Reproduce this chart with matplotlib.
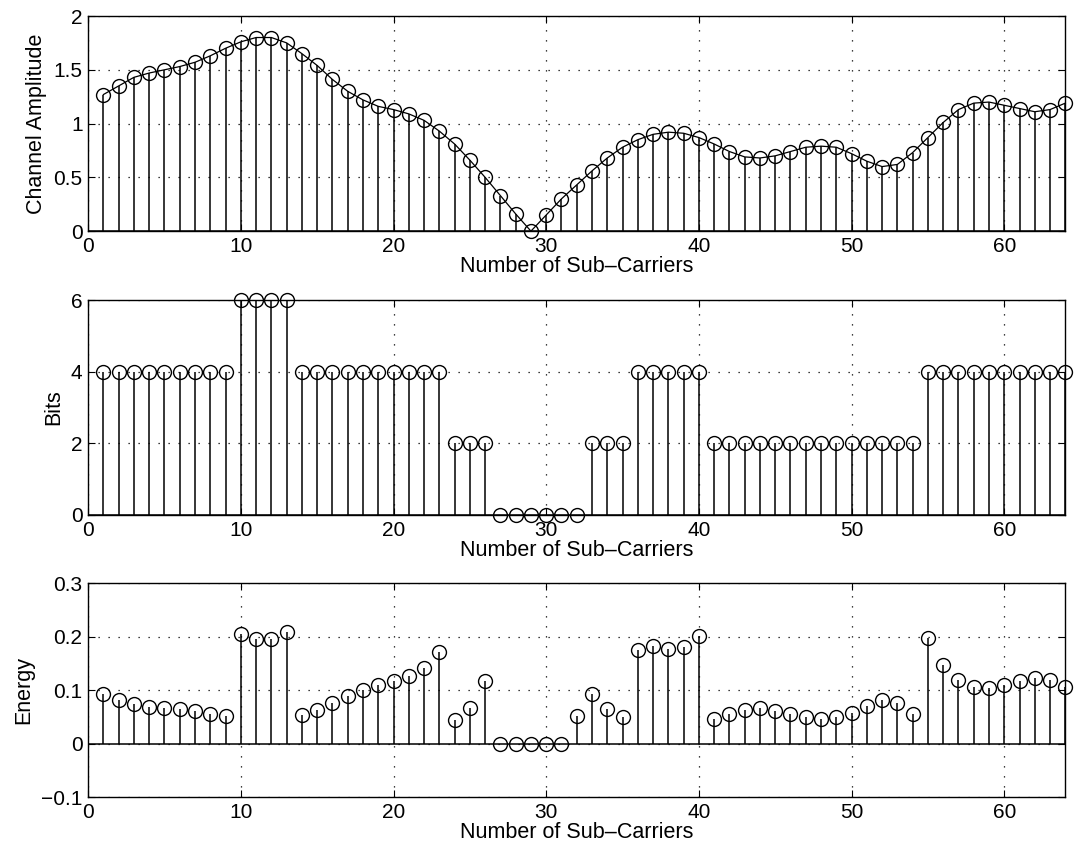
import numpy as np
import matplotlib
matplotlib.use("Agg")
import matplotlib.pyplot as plt

plt.rcParams['font.family'] = ['Liberation Sans', 'DejaVu Sans']

# Sub-carrier indices
carriers = list(range(1, 65))

# Channel amplitude per sub-carrier
amplitude = [
    1.27, 1.35, 1.43, 1.47, 1.50, 1.53, 1.57, 1.63, 1.70, 1.76,
    1.80, 1.80, 1.75, 1.65, 1.54, 1.41, 1.30, 1.22, 1.16, 1.13,
    1.09, 1.03, 0.93, 0.81, 0.66, 0.50, 0.33, 0.16, 0.00, 0.15,
    0.30, 0.43, 0.56, 0.68, 0.78, 0.85, 0.90, 0.92, 0.91, 0.87,
    0.81, 0.74, 0.69, 0.68, 0.70, 0.74, 0.78, 0.79, 0.78, 0.72,
    0.65, 0.60, 0.62, 0.73, 0.87, 1.01, 1.13, 1.19, 1.20, 1.17,
    1.14, 1.11, 1.13, 1.19,
]

# Bits loaded on each sub-carrier
bits = [
    4, 4, 4, 4, 4, 4, 4, 4, 4, 6,
    6, 6, 6, 4, 4, 4, 4, 4, 4, 4,
    4, 4, 4, 2, 2, 2, 0, 0, 0, 0,
    0, 0, 2, 2, 2, 4, 4, 4, 4, 4,
    2, 2, 2, 2, 2, 2, 2, 2, 2, 2,
    2, 2, 2, 2, 4, 4, 4, 4, 4, 4,
    4, 4, 4, 4,
]

# Energy allocated to each sub-carrier
energy = [
    0.092, 0.082, 0.074, 0.069, 0.066, 0.064, 0.061, 0.056, 0.051, 0.205,
    0.196, 0.196, 0.208, 0.054, 0.062, 0.075, 0.089, 0.100, 0.109, 0.117,
    0.126, 0.142, 0.171, 0.044, 0.067, 0.117, 0.000, 0.000, 0.000, 0.000,
    0.000, 0.051, 0.092, 0.064, 0.050, 0.174, 0.183, 0.177, 0.181, 0.201,
    0.046, 0.055, 0.062, 0.067, 0.061, 0.055, 0.049, 0.046, 0.049, 0.057,
    0.071, 0.082, 0.075, 0.055, 0.198, 0.146, 0.119, 0.106, 0.104, 0.109,
    0.117, 0.122, 0.119, 0.106,
]

xlabel_text = "Number of Sub\u2013Carriers"
x_ticks = [0, 10, 20, 30, 40, 50, 60]

panels = [
    dict(values=amplitude, ylabel="Channel Amplitude", ylim=(0, 2),
         yticks=[0, 0.5, 1, 1.5, 2], yticklabels=["0", "0.5", "1", "1.5", "2"],
         line=True),
    dict(values=bits, ylabel="Bits", ylim=(0, 6),
         yticks=[0, 2, 4, 6], yticklabels=["0", "2", "4", "6"], line=False),
    dict(values=energy, ylabel="Energy", ylim=(-0.1, 0.3),
         yticks=[-0.1, 0, 0.1, 0.2, 0.3],
         yticklabels=["\u22120.1", "0", "0.1", "0.2", "0.3"], line=False),
]

fig = plt.figure(figsize=(10.75, 8.56), dpi=100)
boxes = [
    (0.082, 0.730, 0.909, 0.2513),
    (0.082, 0.3984, 0.909, 0.2511),
    (0.082, 0.0689, 0.909, 0.2500),
]

for box, p in zip(boxes, panels):
    ax = fig.add_axes(box)
    markerline, stemlines, baseline = ax.stem(
        carriers, p["values"], linefmt='k-', markerfmt='ko', basefmt='k-')
    markerline.set_markerfacecolor('none')
    markerline.set_markeredgecolor('k')
    markerline.set_markersize(10)
    markerline.set_markeredgewidth(1.0)
    markerline.set_clip_on(False)
    markerline.set_zorder(4)
    stemlines.set_linewidth(1.1)
    baseline.set_visible(False)
    if p["line"]:
        markerline.set_linestyle('-')
        markerline.set_linewidth(0.9)
    ax.axhline(0, color='k', linewidth=1.1, zorder=1)
    ax.set_xlim(0, 64)
    ax.set_ylim(*p["ylim"])
    ax.set_xticks(x_ticks)
    ax.set_yticks(p["yticks"])
    ax.set_yticklabels(p["yticklabels"])
    ax.grid(True, color='k', linestyle=(0, (1, 7)), linewidth=0.9)
    ax.tick_params(direction='in', top=True, right=True, labelsize=15,
                   length=5, width=0.8, pad=4)
    for s in ax.spines.values():
        s.set_linewidth(1.0)
    ax.set_xlabel(xlabel_text, fontsize=15.5, labelpad=0)
    ax.set_ylabel(p["ylabel"], fontsize=15.5, labelpad=5)

fig.savefig("out.png", dpi=100)
